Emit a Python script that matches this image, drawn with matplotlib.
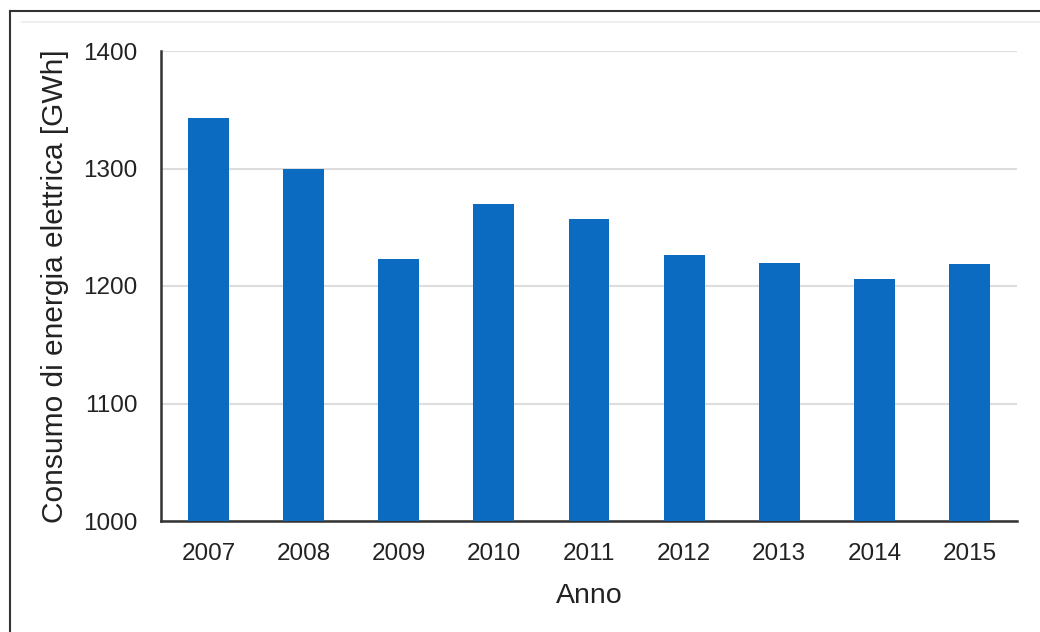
import matplotlib.pyplot as plt
from matplotlib.lines import Line2D

anni = ['2007', '2008', '2009', '2010', '2011', '2012', '2013', '2014', '2015']
consumo = [1343, 1300, 1223, 1270, 1257, 1226, 1220, 1206, 1219]
yticks = [1000, 1100, 1200, 1300, 1400]

plt.rcParams['font.family'] = ['Liberation Sans', 'DejaVu Sans']

fig = plt.figure(figsize=(10.4, 6.32), dpi=100)
ax = fig.add_axes([161 / 1040, 1 - 521 / 632, (1017 - 161) / 1040, (521 - 51) / 632])

x = list(range(len(anni)))
ax.bar(x, consumo, width=0.43, color='#0a6bc1', zorder=3)

ax.set_xlim(-0.5, len(anni) - 0.5)
ax.set_ylim(1000, 1400)
ax.set_yticks(yticks)
ax.set_xticks(x)
ax.set_xticklabels(anni)
ax.tick_params(axis='both', length=0, labelsize=17.5, colors='#222222')
ax.tick_params(axis='y', pad=17)
ax.tick_params(axis='x', pad=16)
ax.yaxis.grid(True, color='#dddddd', linewidth=1.5, zorder=0)

ax.spines['top'].set_visible(False)
ax.spines['right'].set_visible(False)
ax.spines['left'].set_color('#333333')
ax.spines['bottom'].set_color('#333333')
ax.spines['left'].set_linewidth(1.8)
ax.spines['bottom'].set_linewidth(1.8)

ax.set_xlabel('Anno', fontsize=20.5, color='#222222', labelpad=13)
ax.set_ylabel('Consumo di energia elettrica [GWh]', fontsize=21.5, color='#222222', labelpad=10)

# cornice e linea grigia in alto
fig.add_artist(Line2D([10 / 1040, 10 / 1040], [0, 1 - 11 / 632], color='#333333', linewidth=1.5))
fig.add_artist(Line2D([10 / 1040, 1], [1 - 11 / 632, 1 - 11 / 632], color='#333333', linewidth=1.5))
fig.add_artist(Line2D([22 / 1040, 1], [1 - 22 / 632, 1 - 22 / 632], color='#eeeeee', linewidth=1.5))

fig.savefig('out.png', dpi=100)
